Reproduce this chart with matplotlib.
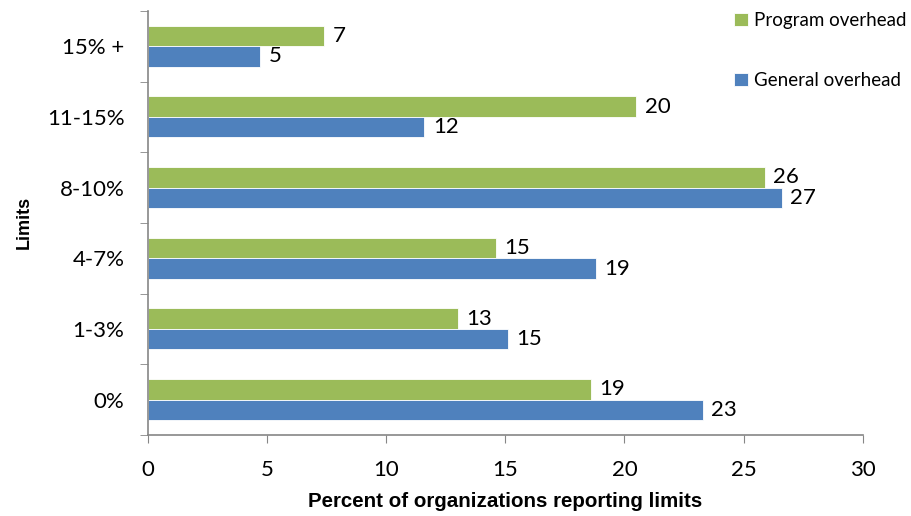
import numpy as np
import matplotlib.pyplot as plt

categories = ["0%", "1-3%", "4-7%", "8-10%", "11-15%", "15% +"]
program_overhead = [18.6, 13.0, 14.6, 25.9, 20.5, 7.4]
general_overhead = [23.3, 15.1, 18.8, 26.6, 11.6, 4.7]

green = "#9BBB59"
blue = "#4F81BD"
axis_grey = "#868686"
font = "Lato"

fig = plt.figure(figsize=(9.11, 5.16), dpi=100)
ax = fig.add_axes([0.1625, 0.157, 0.7845, 0.822])

y = np.arange(len(categories))
h = 0.29
b1 = ax.barh(y + h / 2, program_overhead, height=h, color=green,
             edgecolor="white", linewidth=0.6, label="Program overhead")
b2 = ax.barh(y - h / 2, general_overhead, height=h, color=blue,
             edgecolor="white", linewidth=0.6, label="General overhead")

for bars, vals in ((b1, program_overhead), (b2, general_overhead)):
    for bar, v in zip(bars, vals):
        ax.annotate(f"{v:.0f}", (v, bar.get_y() + bar.get_height() / 2),
                    xytext=(6, 0), textcoords="offset points",
                    va="center", ha="left", fontsize=16, family=font)

ax.set_xlim(0, 30)
ax.set_ylim(-0.5, len(categories) - 0.5)
ax.set_xticks(np.arange(0, 31, 5))
ax.set_yticks(y)
ax.set_yticklabels(categories)
ax.set_yticks(np.arange(-0.5, len(categories), 1), minor=True)
ax.tick_params(axis="y", which="major", length=0, pad=17)
ax.tick_params(axis="y", which="minor", length=6, color=axis_grey, direction="out")
ax.tick_params(axis="x", length=6, color=axis_grey, direction="out", pad=12)
for lab in ax.get_xticklabels() + ax.get_yticklabels():
    lab.set_fontsize(16)
    lab.set_family(font)

for s in ("top", "right"):
    ax.spines[s].set_visible(False)
for s in ("left", "bottom"):
    ax.spines[s].set_color(axis_grey)
    ax.spines[s].set_linewidth(1.2)

ax.set_xlabel("Percent of organizations reporting limits", fontsize=14.8,
              fontweight="bold", family="Liberation Sans", labelpad=9)
ax.set_ylabel("Limits", fontsize=13, fontweight="bold",
              family="Liberation Sans", labelpad=10)

leg = fig.legend(handles=[b1, b2], loc="upper left", bbox_to_anchor=(0.795, 0.995),
                 frameon=False, borderpad=0, labelspacing=2.3, handlelength=0.75,
                 handleheight=0.75, handletextpad=0.35, prop={"family": font, "size": 13.5})

fig.savefig("out.png", dpi=100)
